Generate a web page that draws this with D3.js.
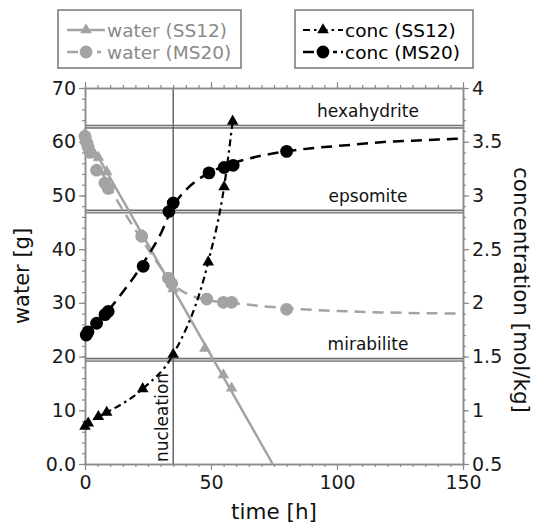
<!DOCTYPE html>
<html><head><meta charset="utf-8">
<script src="https://cdn.jsdelivr.net/npm/d3@7"></script>
<style>
html,body{margin:0;padding:0;background:#fff;}
svg{display:block;font-family:"DejaVu Sans",Verdana,sans-serif;}
</style></head>
<body><svg id="chart" width="540" height="528"></svg>
<script>
// ---- data ----
const waterSS12Time = [0, 1.3, 5.3, 8.6, 22.9, 35.0, 47.6, 54.9, 58.2];
const waterSS12     = [61.5, 60.4, 57.1, 54.4, 42.6, 32.6, 21.5, 16.6, 14.1];
const waterSS12FitTime = [0, 74.5];
const waterSS12Fit     = [61.5, 0];

const waterMS20Time = [0, 0.5, 1.2, 2.0, 4.6, 7.9, 9.2, 22.5, 33.1, 34.4, 48.3, 54.9, 58.2, 80.0];
const waterMS20     = [61.0, 60.0, 59.0, 58.0, 54.7, 52.3, 51.3, 42.4, 34.6, 33.6, 30.7, 30.1, 30.1, 28.8];
const waterMS20FitTime = [0, 5, 10, 15, 20, 25, 30, 35, 40, 45, 50, 60, 70, 80, 90, 100, 120, 150];
const waterMS20Fit     = [61.3, 56.0, 51.3, 47.3, 43.6, 40.0, 36.6, 33.5, 31.8, 30.9, 30.4, 29.9, 29.4, 29.0, 28.7, 28.5, 28.2, 28.0];

const concSS12Time = [0, 1.3, 5.3, 8.6, 22.9, 35.0, 48.9, 55.2, 58.6];
const concSS12     = [0.85, 0.88, 0.94, 0.98, 1.20, 1.52, 2.38, 3.08, 3.69];

const concMS20Time = [0.5, 1.2, 4.6, 7.9, 9.2, 23.1, 33.3, 35.0, 49.2, 55.2, 58.8, 80.0];
const concMS20     = [1.70, 1.73, 1.81, 1.89, 1.92, 2.34, 2.85, 2.93, 3.21, 3.26, 3.28, 3.41];
const concMS20FitTime = [0, 5, 10, 15, 20, 25, 30, 35, 40, 45, 50, 55, 60, 70, 80, 90, 100, 110, 120, 130, 140, 150];
const concMS20Fit     = [1.68, 1.81, 1.95, 2.10, 2.26, 2.44, 2.64, 2.90, 3.05, 3.15, 3.22, 3.27, 3.31, 3.37, 3.41, 3.44, 3.46, 3.48, 3.50, 3.51, 3.52, 3.53];

const phaseNames = ["hexahydrite", "epsomite", "mirabilite"];
const phaseConc  = [3.64, 2.85, 1.47];
const nucleationTime = 35.0;

const timeTicks = [0, 50, 100, 150];
const waterTicks = [0, 10, 20, 30, 40, 50, 60, 70];
const waterTickLabels = ["0.0", "10", "20", "30", "40", "50", "60", "70"];
const concTicks = [0.5, 1, 1.5, 2, 2.5, 3, 3.5, 4];
const concTickLabels = ["0.5", "1", "1.5", "2", "2.5", "3", "3.5", "4"];

const legendLeft  = ["water (SS12)", "water (MS20)"];
const legendRight = ["conc (SS12)", "conc (MS20)"];

// ---- layout ----
const L = 85, R = 463, T = 88, B = 464;
const GRAY = "#a3a3a3", AX = "#8a8a8a";
const svg = d3.select("#chart");

const x = d3.scaleLinear().domain([0, 150]).range([L, R]);
const yW = d3.scaleLinear().domain([0, 70]).range([B, T]);
const yC = d3.scaleLinear().domain([0.5, 4]).range([B, T]);

// phase lines
phaseConc.forEach((c, i) => {
  const y = yC(c);
  svg.append("line").attr("x1", L).attr("x2", R).attr("y1", y).attr("y2", y)
    .attr("stroke", "#707070").attr("stroke-width", 4);
  svg.append("line").attr("x1", L).attr("x2", R).attr("y1", y).attr("y2", y)
    .attr("stroke", "#d8d8d8").attr("stroke-width", 1.2);
  svg.append("text").attr("x", 368).attr("y", y - 10).attr("text-anchor", "middle")
    .attr("font-size", 17).attr("fill", "#111").text(phaseNames[i]);
});

// nucleation
svg.append("line").attr("x1", x(nucleationTime)).attr("x2", x(nucleationTime))
  .attr("y1", T).attr("y2", B).attr("stroke", "#666").attr("stroke-width", 1.5);
svg.append("text").attr("transform", `translate(${x(nucleationTime) - 5},${B - 2}) rotate(-90)`)
  .attr("font-size", 17).attr("fill", "#111").text("nucleation");

// axes
function styleAxis(g) {
  g.selectAll("path").attr("stroke", AX).attr("stroke-width", 1.5);
  g.selectAll("line").attr("stroke", AX).attr("stroke-width", 1.2);
  g.selectAll("text").attr("fill", "#1a1a1a").attr("font-size", 19)
    .attr("font-family", '"DejaVu Sans",Verdana,sans-serif');
}
const minorTime = d3.range(0, 151, 5);
const minorWater = d3.range(0, 71, 2);
const minorConc = d3.range(5, 41, 1).map(v => v / 10);

// bottom
svg.append("g").attr("transform", `translate(0,${B})`)
  .call(d3.axisBottom(x).tickValues(minorTime).tickFormat("").tickSize(3).tickSizeOuter(0)).call(styleAxis);
svg.append("g").attr("transform", `translate(0,${B})`)
  .call(d3.axisBottom(x).tickValues(timeTicks).tickFormat(d3.format("d")).tickSize(6).tickSizeOuter(0).tickPadding(6)).call(styleAxis);
// top
svg.append("g").attr("transform", `translate(0,${T})`)
  .call(d3.axisTop(x).tickValues(minorTime).tickFormat("").tickSize(3).tickSizeOuter(0)).call(styleAxis);
svg.append("g").attr("transform", `translate(0,${T})`)
  .call(d3.axisTop(x).tickValues(timeTicks).tickFormat("").tickSize(6).tickSizeOuter(0)).call(styleAxis);
// left
svg.append("g").attr("transform", `translate(${L},0)`)
  .call(d3.axisLeft(yW).tickValues(minorWater).tickFormat("").tickSize(3).tickSizeOuter(0)).call(styleAxis);
svg.append("g").attr("transform", `translate(${L},0)`)
  .call(d3.axisLeft(yW).tickValues(waterTicks).tickFormat((d, i) => waterTickLabels[i]).tickSize(6).tickSizeOuter(0).tickPadding(3)).call(styleAxis);
// right
svg.append("g").attr("transform", `translate(${R},0)`)
  .call(d3.axisRight(yC).tickValues(minorConc).tickFormat("").tickSize(3).tickSizeOuter(0)).call(styleAxis);
svg.append("g").attr("transform", `translate(${R},0)`)
  .call(d3.axisRight(yC).tickValues(concTicks).tickFormat((d, i) => concTickLabels[i]).tickSize(6).tickSizeOuter(0).tickPadding(3)).call(styleAxis);

// axis titles
svg.append("text").attr("x", (L + R) / 2).attr("y", 519).attr("text-anchor", "middle")
  .attr("font-size", 21.5).attr("fill", "#111").text("time [h]");
svg.append("text").attr("transform", `translate(29,${(T + B) / 2}) rotate(-90)`).attr("text-anchor", "middle")
  .attr("font-size", 21).attr("fill", "#111").text("water [g]");
svg.append("text").attr("transform", `translate(514,${(T + B) / 2 + 14}) rotate(90)`).attr("text-anchor", "middle")
  .attr("font-size", 21.5).attr("fill", "#111").text("concentration [mol/kg]");

// lines
const zip = (t, v) => t.map((d, i) => [d, v[i]]);
const lineW = d3.line().x(d => x(d[0])).y(d => yW(d[1]));
const lineWc = d3.line().x(d => x(d[0])).y(d => yW(d[1])).curve(d3.curveMonotoneX);
const lineCc = d3.line().x(d => x(d[0])).y(d => yC(d[1])).curve(d3.curveMonotoneX);

svg.append("path").attr("d", lineW(zip(waterSS12FitTime, waterSS12Fit)))
  .attr("fill", "none").attr("stroke", GRAY).attr("stroke-width", 2.5);
svg.append("path").attr("d", lineWc(zip(waterMS20FitTime, waterMS20Fit)))
  .attr("fill", "none").attr("stroke", GRAY).attr("stroke-width", 2.5).attr("stroke-dasharray", "11,7");
svg.append("path").attr("d", lineCc(zip(concMS20FitTime, concMS20Fit)))
  .attr("fill", "none").attr("stroke", "#000").attr("stroke-width", 2.5).attr("stroke-dasharray", "11,7");
svg.append("path").attr("d", lineCc(zip(concSS12Time, concSS12)))
  .attr("fill", "none").attr("stroke", "#000").attr("stroke-width", 2.2).attr("stroke-dasharray", "7,4,2.5,4");

// markers
const tri = d3.symbol().type(d3.symbolTriangle).size(58);
function triangles(t, v, ys, color) {
  svg.append("g").selectAll("path").data(zip(t, v)).join("path")
    .attr("d", tri).attr("transform", d => `translate(${x(d[0])},${ys(d[1])})`).attr("fill", color);
}
function circles(t, v, ys, color) {
  svg.append("g").selectAll("circle").data(zip(t, v)).join("circle")
    .attr("cx", d => x(d[0])).attr("cy", d => ys(d[1])).attr("r", 6.4).attr("fill", color);
}
triangles(waterSS12Time, waterSS12, yW, GRAY);
circles(waterMS20Time, waterMS20, yW, GRAY);
circles(concMS20Time, concMS20, yC, "#000");
triangles(concSS12Time, concSS12, yC, "#000");

// legends
function legendBox(bx, by, bw, bh) {
  svg.append("rect").attr("x", bx).attr("y", by).attr("width", bw).attr("height", bh)
    .attr("fill", "#fff").attr("stroke", "#777").attr("stroke-width", 1.5);
}
legendBox(58, 10, 183, 58);
legendBox(295, 10, 178, 58);
const rows = [30, 52];
// left legend
svg.append("line").attr("x1", 67).attr("x2", 105).attr("y1", rows[0]).attr("y2", rows[0])
  .attr("stroke", GRAY).attr("stroke-width", 2.5);
svg.append("path").attr("d", tri).attr("transform", `translate(86,${rows[0]})`).attr("fill", GRAY);
svg.append("line").attr("x1", 67).attr("x2", 105).attr("y1", rows[1]).attr("y2", rows[1])
  .attr("stroke", GRAY).attr("stroke-width", 2.5).attr("stroke-dasharray", "11,19,4,4");
svg.append("circle").attr("cx", 86).attr("cy", rows[1]).attr("r", 6.4).attr("fill", GRAY);
legendLeft.forEach((s, i) => svg.append("text").attr("x", 107).attr("y", rows[i] + 6.5)
  .attr("font-size", 18.5).attr("fill", "#8a8a8a").text(s));
// right legend
svg.append("line").attr("x1", 303).attr("x2", 343).attr("y1", rows[0]).attr("y2", rows[0])
  .attr("stroke", "#000").attr("stroke-width", 2.2).attr("stroke-dasharray", "7,4,2.5,4");
svg.append("path").attr("d", tri).attr("transform", `translate(323,${rows[0]})`).attr("fill", "#000");
svg.append("line").attr("x1", 303).attr("x2", 343).attr("y1", rows[1]).attr("y2", rows[1])
  .attr("stroke", "#000").attr("stroke-width", 2.5).attr("stroke-dasharray", "11,19,4,4");
svg.append("circle").attr("cx", 323).attr("cy", rows[1]).attr("r", 6.4).attr("fill", "#000");
legendRight.forEach((s, i) => svg.append("text").attr("x", 345).attr("y", rows[i] + 6.5)
  .attr("font-size", 18.5).attr("fill", "#000").text(s));
</script></body></html>
